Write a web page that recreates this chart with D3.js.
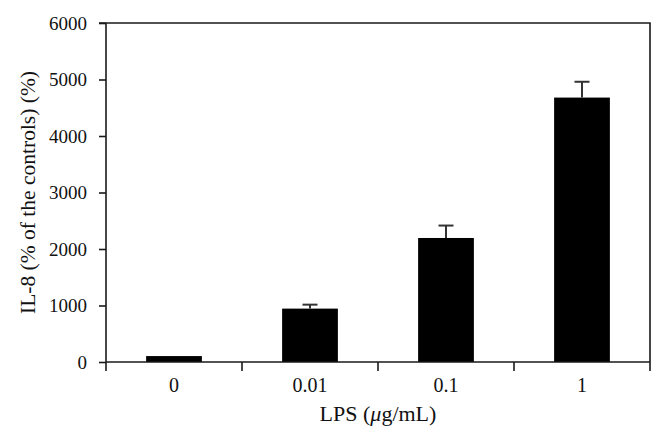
<!DOCTYPE html>
<html lang="en">
<head>
<meta charset="utf-8">
<title>IL-8 vs LPS</title>
<script src="https://cdn.jsdelivr.net/npm/d3@7"></script>
<style>
  body { margin: 0; background: #fff; }
  text { font-family: "Liberation Serif", "DejaVu Serif", serif; fill: #111; }
</style>
</head>
<body>
<script>
// data
var doses = ["0", "0.01", "0.1", "1"];
var il8 = [105, 945, 2195, 4680];
var il8Err = [0, 70, 220, 280];
var yTicks = [0, 1000, 2000, 3000, 4000, 5000, 6000];

var w = 664, h = 444;
var mLeft = 106, mRight = 650, mTop = 23, mBottom = 362;

var svg = d3.select("body").append("svg")
  .attr("width", w)
  .attr("height", h);

var x = d3.scaleBand()
  .domain(doses)
  .range([mLeft, mRight])
  .paddingInner(0.59)
  .paddingOuter(0.295);

var y = d3.scaleLinear()
  .domain([0, 6000])
  .range([mBottom, mTop]);

// frame: top and right lines
svg.append("path")
  .attr("d", "M" + (mLeft - 7) + "," + mTop + "H" + mRight + "V" + (mBottom + 9))
  .attr("fill", "none")
  .attr("stroke", "#1a1a1a")
  .attr("stroke-width", 1.6);

// bars
svg.selectAll("rect.bar")
  .data(doses)
  .enter()
  .append("rect")
  .attr("class", "bar")
  .attr("x", function(d) { return x(d); })
  .attr("y", function(d, i) { return y(il8[i]); })
  .attr("width", x.bandwidth())
  .attr("height", function(d, i) { return mBottom - y(il8[i]); })
  .attr("fill", "#000");

// error bars (upper only)
var eb = svg.selectAll("g.err")
  .data(doses.filter(function(d, i) { return il8Err[i] > 0; }))
  .enter()
  .append("g")
  .attr("class", "err")
  .attr("stroke", "#333")
  .attr("stroke-width", 2);

eb.append("line")
  .attr("x1", function(d) { return x(d) + x.bandwidth() / 2; })
  .attr("x2", function(d) { return x(d) + x.bandwidth() / 2; })
  .attr("y1", function(d) { var i = doses.indexOf(d); return y(il8[i]); })
  .attr("y2", function(d) { var i = doses.indexOf(d); return y(il8[i] + il8Err[i]); });

eb.append("line")
  .attr("x1", function(d) { return x(d) + x.bandwidth() / 2 - 7.5; })
  .attr("x2", function(d) { return x(d) + x.bandwidth() / 2 + 7.5; })
  .attr("y1", function(d) { var i = doses.indexOf(d); return y(il8[i] + il8Err[i]); })
  .attr("y2", function(d) { var i = doses.indexOf(d); return y(il8[i] + il8Err[i]); });

// y axis
var yAxis = svg.append("g")
  .attr("transform", "translate(" + mLeft + ",0)")
  .call(d3.axisLeft(y).tickValues(yTicks).tickFormat(d3.format("d")).tickSize(7).tickSizeOuter(0).tickPadding(12));
yAxis.select(".domain").remove();
yAxis.selectAll(".tick line").attr("stroke", "#1a1a1a").attr("stroke-width", 1.6);
yAxis.selectAll(".tick text")
  .attr("font-size", 19)
  .attr("fill", "#111");
yAxis.attr("font-family", null).attr("font-size", null);
svg.append("line")
  .attr("x1", mLeft).attr("x2", mLeft)
  .attr("y1", mTop).attr("y2", mBottom + 9)
  .attr("stroke", "#1a1a1a").attr("stroke-width", 1.6);

// x axis: baseline, separators between categories, centred labels
svg.append("line")
  .attr("x1", mLeft).attr("x2", mRight)
  .attr("y1", mBottom).attr("y2", mBottom)
  .attr("stroke", "#1a1a1a").attr("stroke-width", 1.6);

var step = (mRight - mLeft) / doses.length;
svg.selectAll("line.sep")
  .data(d3.range(1, doses.length))
  .enter()
  .append("line")
  .attr("class", "sep")
  .attr("x1", function(k) { return mLeft + k * step; })
  .attr("x2", function(k) { return mLeft + k * step; })
  .attr("y1", mBottom)
  .attr("y2", mBottom + 9)
  .attr("stroke", "#1a1a1a")
  .attr("stroke-width", 1.6);

svg.selectAll("text.xlab")
  .data(doses)
  .enter()
  .append("text")
  .attr("class", "xlab")
  .attr("x", function(d) { return x(d) + x.bandwidth() / 2; })
  .attr("y", 392)
  .attr("text-anchor", "middle")
  .attr("font-size", 20)
  .text(function(d) { return d; });

// axis titles
var xt = svg.append("text")
  .attr("x", (mLeft + mRight) / 2)
  .attr("y", 421)
  .attr("text-anchor", "middle")
  .attr("font-size", 22);
xt.append("tspan").text("LPS (");
xt.append("tspan").attr("font-style", "italic").text("\u03bc");
xt.append("tspan").text("g/mL)");

svg.append("text")
  .attr("transform", "translate(35," + ((mTop + mBottom) / 2) + ") rotate(-90)")
  .attr("text-anchor", "middle")
  .attr("font-size", 21.5)
  .text("IL-8 (% of the controls) (%)");
</script>
</body>
</html>
